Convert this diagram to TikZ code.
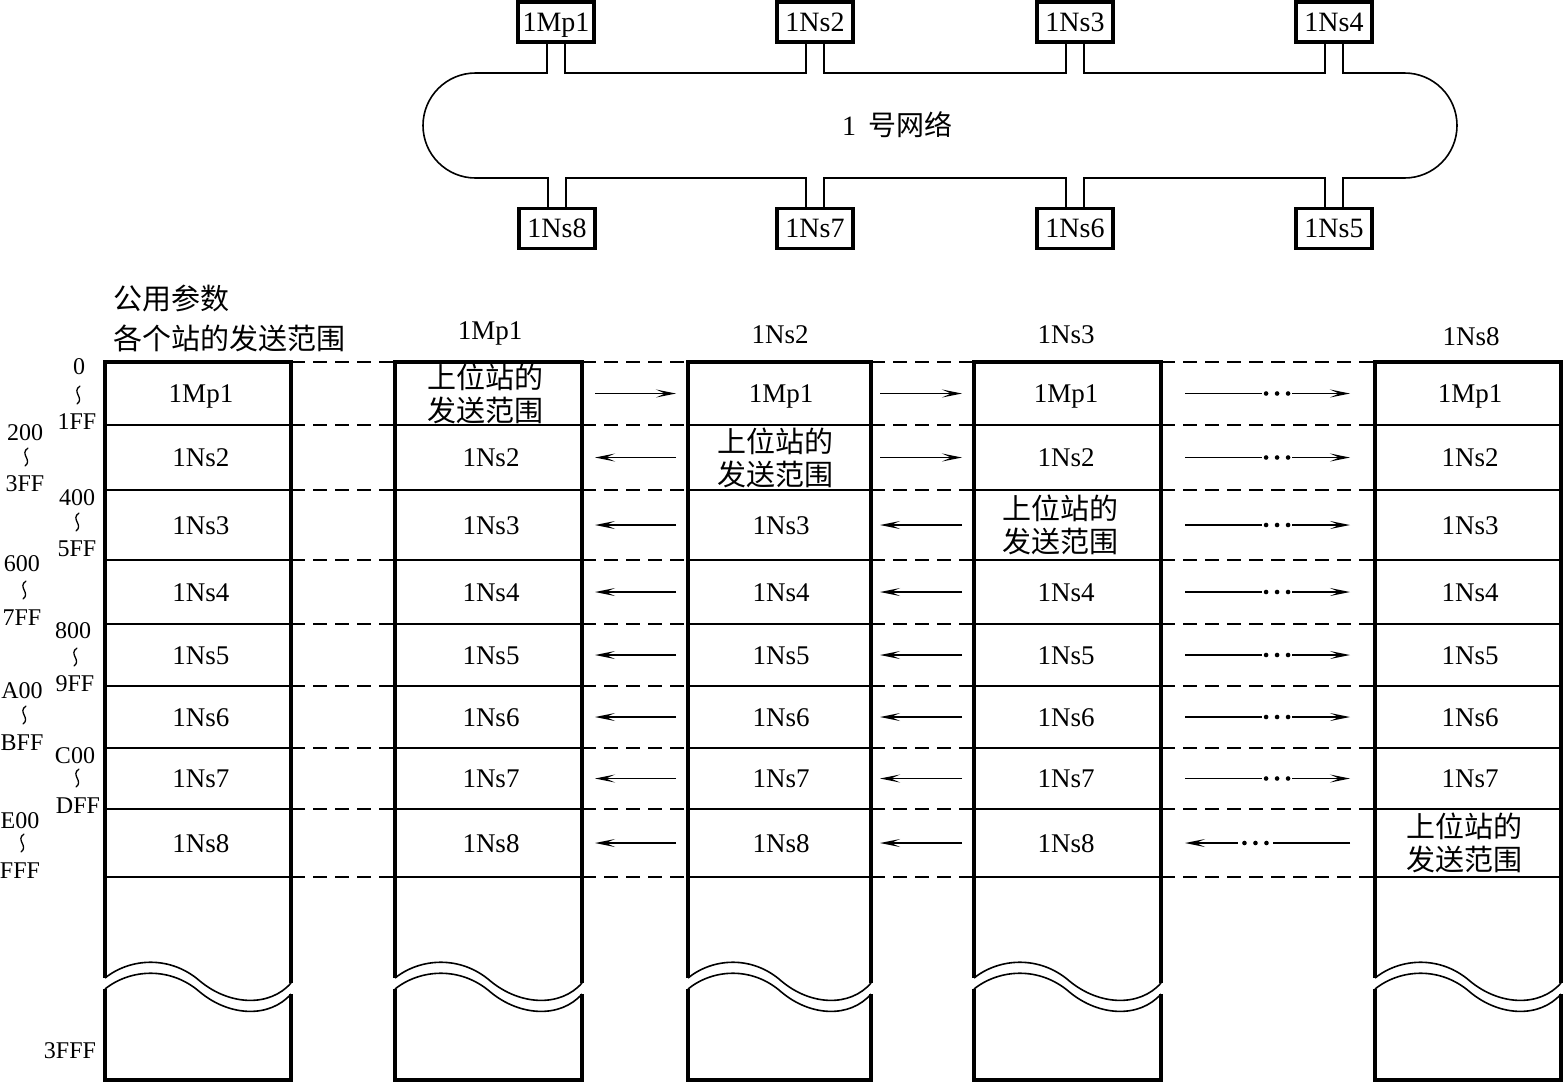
\documentclass[tikz,border=0pt]{standalone}
\usepackage{fontspec}
\setmainfont{Liberation Serif}
\newfontfamily\cjk{Noto Sans CJK SC}
\usetikzlibrary{arrows.meta}
\tikzset{
  netbox/.style={draw, line width=3.2pt, minimum width=76pt, minimum height=40pt, inner sep=0pt, font=\fontsize{28}{30}\selectfont, text height=18.5pt, text depth=0pt},
  ringline/.style={line width=1.6pt},
  colwall/.style={line width=3.6pt},
  rowline/.style={line width=1.6pt},
  dashsep/.style={line width=1.5pt, dash pattern=on 14pt off 8pt},
  celltxt/.style={font=\fontsize{27}{30}\selectfont, text height=18pt, text depth=0pt, inner sep=0pt},
  cellcn/.style={font=\cjk\fontsize{29}{33}\selectfont, align=center, inner sep=0pt},
  addrtxt/.style={font=\fontsize{24}{26}\selectfont, text height=16pt, text depth=0pt, inner sep=0pt},
  sepline/.style={line width=1.3pt, line cap=round},
  arrowline/.style={line width=1.5pt, -{Stealth[length=20pt, width=8pt, inset=9pt]}},
  dotgap/.style={fill=white, inner sep=0pt, minimum height=8pt},
}
\begin{document}
\begin{tikzpicture}[x=1pt, y=-1pt]
\useasboundingbox (0,0) rectangle (1563,1082);

% ---------- network ----------
\foreach \n/\x/\lab in {t1/556/1Mp1, t2/815/1Ns2, t3/1075/1Ns3, t4/1334/1Ns4} {
  \node[netbox] (\n) at (\x,22) {\lab};
  \coordinate (L\n) at ([xshift=-9pt]\n.south);
  \coordinate (R\n) at ([xshift=9pt]\n.south);
}
\foreach \n/\x/\lab in {b1/557/1Ns8, b2/815/1Ns7, b3/1075/1Ns6, b4/1334/1Ns5} {
  \node[netbox] (\n) at (\x,228.5) {\lab};
  \coordinate (L\n) at ([xshift=-9pt]\n.north);
  \coordinate (R\n) at ([xshift=9pt]\n.north);
}
\coordinate (rt) at (0,73);
\coordinate (rb) at (0,178);
\draw[ringline] (Lt1) -- (Lt1 |- rt) -- (475.5,73) arc[start angle=90, end angle=270, radius=52.5pt] -- (Lb1 |- rb) -- (Lb1);
\draw[ringline] (Rt1) -- (Rt1 |- rt) -- (Lt2 |- rt) -- (Lt2);
\draw[ringline] (Rt2) -- (Rt2 |- rt) -- (Lt3 |- rt) -- (Lt3);
\draw[ringline] (Rt3) -- (Rt3 |- rt) -- (Lt4 |- rt) -- (Lt4);
\draw[ringline] (Rt4) -- (Rt4 |- rt) -- (1404.5,73) arc[start angle=90, end angle=-90, radius=52.5pt] -- (Rb4 |- rb) -- (Rb4);
\draw[ringline] (Rb1) -- (Rb1 |- rb) -- (Lb2 |- rb) -- (Lb2);
\draw[ringline] (Rb2) -- (Rb2 |- rb) -- (Lb3 |- rb) -- (Lb3);
\draw[ringline] (Rb3) -- (Rb3 |- rb) -- (Lb4 |- rb) -- (Lb4);
\node[font=\fontsize{28}{30}\selectfont, inner sep=0pt] (net) at (897,125) {1\hspace{12pt}{\cjk 号网络}};

% ---------- columns ----------
\foreach \L/\R in {105/291, 395/582, 688/871, 974/1161, 1375/1561} {
  \foreach \y in {425,490,560,624,686,748,809,877} \draw[rowline] (\L,\y) -- (\R,\y);
  \draw[rowline] (\L,978) .. controls ({\L+0.134*(\R-\L)},958) and ({\L+0.35*(\R-\L)},955) .. ({\L+0.51*(\R-\L)},981) .. controls ({\L+0.672*(\R-\L)},1006) and ({\L+0.887*(\R-\L)},1007) .. (\R,983);
  \draw[rowline] (\L,989) .. controls ({\L+0.134*(\R-\L)},969) and ({\L+0.35*(\R-\L)},966) .. ({\L+0.51*(\R-\L)},992) .. controls ({\L+0.672*(\R-\L)},1017) and ({\L+0.887*(\R-\L)},1018) .. (\R,994);
  \draw[colwall] (\L,978) -- (\L,362) -- (\R,362) -- (\R,983);
  \draw[colwall] (\L,989) -- (\L,1080) -- (\R,1080) -- (\R,994);
}
\foreach \a/\b in {291/395, 582/688, 871/974, 1161/1375}
  \foreach \y in {362,425,490,560,624,686,748,809,877}
    \draw[dashsep] (\a,\y) -- (\b,\y);

% ---------- cell texts ----------
\foreach \c/\xc/\hl in {0/201/0, 1/491/1, 2/781/2, 3/1066/3, 4/1470/8} {
  \foreach \lab/\y [count=\r] in {1Mp1/393.5, 1Ns2/457.5, 1Ns3/525, 1Ns4/592, 1Ns5/655, 1Ns6/717, 1Ns7/778.5, 1Ns8/843} {
    \ifnum\r=\hl
      \node[cellcn] (c\c r\r) at (\xc-6,\y) {上位站的\\发送范围};
    \else
      \node[celltxt] (c\c r\r) at (\xc,\y) {\lab};
    \fi
  }
}
\node[celltxt] (h1) at (490,330) {1Mp1};
\node[celltxt] (h2) at (780,334) {1Ns2};
\node[celltxt] (h3) at (1066,334) {1Ns3};
\node[celltxt] (h4) at (1471,336) {1Ns8};
\node[cellcn, anchor=west] (hp) at (113,298) {公用参数};
\node[cellcn, anchor=west] (hr) at (113,338) {各个站的发送范围};

% ---------- arrows ----------
\foreach \y [count=\r] in {393.5,457.5,525,592,655,717,778.5,843} {
  \coordinate (g1l\r) at (595,\y); \coordinate (g1r\r) at (676,\y);
  \coordinate (g2l\r) at (880,\y); \coordinate (g2r\r) at (962,\y);
  \coordinate (g3l\r) at (1185,\y); \coordinate (g3r\r) at (1350,\y);
  \ifnum\r<2 \draw[arrowline] (g1l\r) -- (g1r\r); \else \draw[arrowline] (g1r\r) -- (g1l\r); \fi
  \ifnum\r<3 \draw[arrowline] (g2l\r) -- (g2r\r); \else \draw[arrowline] (g2r\r) -- (g2l\r); \fi
  \ifnum\r<8
    \draw[arrowline] (g3l\r) -- (g3r\r) node[dotgap, pos=0.558, minimum width=30pt] (d\r) {};
  \else
    \draw[arrowline] (g3r\r) -- (g3l\r) node[dotgap, pos=0.573, minimum width=35pt] (d\r) {};
  \fi
  \foreach \dx in {-11,0,11} \fill ([xshift=\dx pt]d\r.center) circle (2.3pt);
}

% ---------- address labels ----------
\foreach \x/\y/\t [count=\i] in {79/366/0, 77/421/1FF, 25/432/200, 25/483/3FF, 77/497/400, 77/548/5FF, 22/563/600, 22/617/7FF, 73/630/800, 75/683/9FF, 22/690/A00, 22/742/BFF, 75/755/C00, 78/805/DFF, 20/820/E00, 20/870/FFF, 70/1050/3FFF}
  \node[addrtxt] (a\i) at (\x,\y) {\t};
\foreach \x/\y in {78/395, 26/457, 77/522, 24/590, 75/657, 24/715, 77/778, 22/843}
  \draw[sepline] (\x+2,\y-9) .. controls (\x-7,\y-3) and (\x+7,\y+3) .. (\x-1,\y+9);
\end{tikzpicture}
\end{document}
